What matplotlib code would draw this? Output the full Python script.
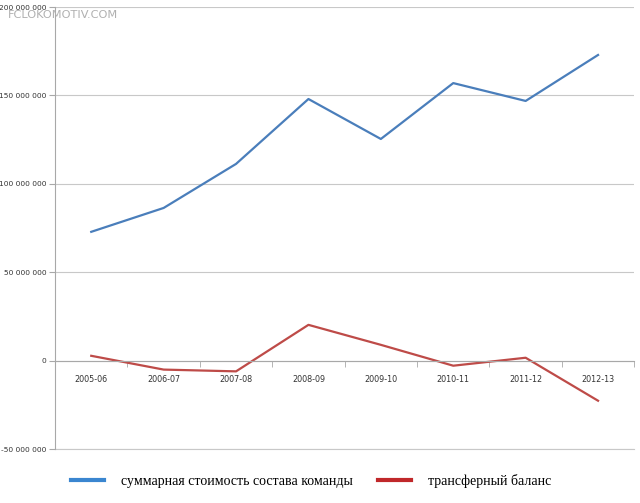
import numpy as np
import matplotlib.pyplot as plt
from matplotlib.ticker import FuncFormatter, FixedLocator
from matplotlib.lines import Line2D

seasons = ["2005-06", "2006-07", "2007-08", "2008-09", "2009-10", "2010-11", "2011-12", "2012-13"]
squad_value = [72900000, 86400000, 111300000, 148000000, 125400000, 157000000, 146900000, 172900000]
transfer_balance = [2800000, -5000000, -6000000, 20300000, 9000000, -2800000, 1700000, -22600000]

fig = plt.figure(figsize=(6.4, 5.03), dpi=100)
ax = fig.add_axes([0.086, 0.107, 0.905, 0.879])

x = np.arange(len(seasons))
ax.plot(x, squad_value, color="#4a7ebb", lw=1.6)
ax.plot(x, transfer_balance, color="#be4b48", lw=1.6)

ax.set_xlim(-0.5, len(seasons) - 0.5)
ax.set_ylim(-50000000, 200000000)
ax.set_yticks(np.arange(-50000000, 200000001, 50000000))
ax.yaxis.set_major_formatter(FuncFormatter(lambda v, p: f"{int(v):,}".replace(",", " ")))
ax.grid(axis="y", color="#c8c8c8", lw=0.8)
ax.axhline(-50000000, color="#c8c8c8", lw=0.8, clip_on=False, zorder=0)
ax.set_axisbelow(True)

# x axis sits on the zero line
ax.spines["bottom"].set_position(("data", 0))
ax.spines["bottom"].set_color("#a8a8a8")
ax.spines["left"].set_color("#a8a8a8")
ax.spines["top"].set_visible(False)
ax.spines["right"].set_visible(False)
ax.set_xticks(x)
ax.set_xticklabels(seasons)
ax.xaxis.set_minor_locator(FixedLocator(np.arange(-0.5, len(seasons), 1.0)))
ax.tick_params(axis="x", which="major", length=0, pad=10, labelsize=5.8, labelcolor="#333333")
ax.tick_params(axis="x", which="minor", length=4, direction="out", color="#a8a8a8")
ax.tick_params(axis="y", length=4, color="#a8a8a8", labelsize=5.4, labelcolor="#333333", pad=2)

fig.text(0.012, 0.97, "FCLOKOMOTIV.COM", fontsize=8.2, color="#b0b0b0", ha="left", va="center")

handles = [Line2D([], [], color="#3a86d0", lw=3), Line2D([], [], color="#c0282a", lw=3)]
fig.legend(handles, ["суммарная стоимость состава команды", "трансферный баланс"],
           loc="center", bbox_to_anchor=(0.486, 0.044), ncol=2, frameon=False,
           prop={"family": "Liberation Serif", "size": 10}, handlelength=2.4,
           handletextpad=1.2, columnspacing=1.8)

fig.savefig("out.png", dpi=100)
